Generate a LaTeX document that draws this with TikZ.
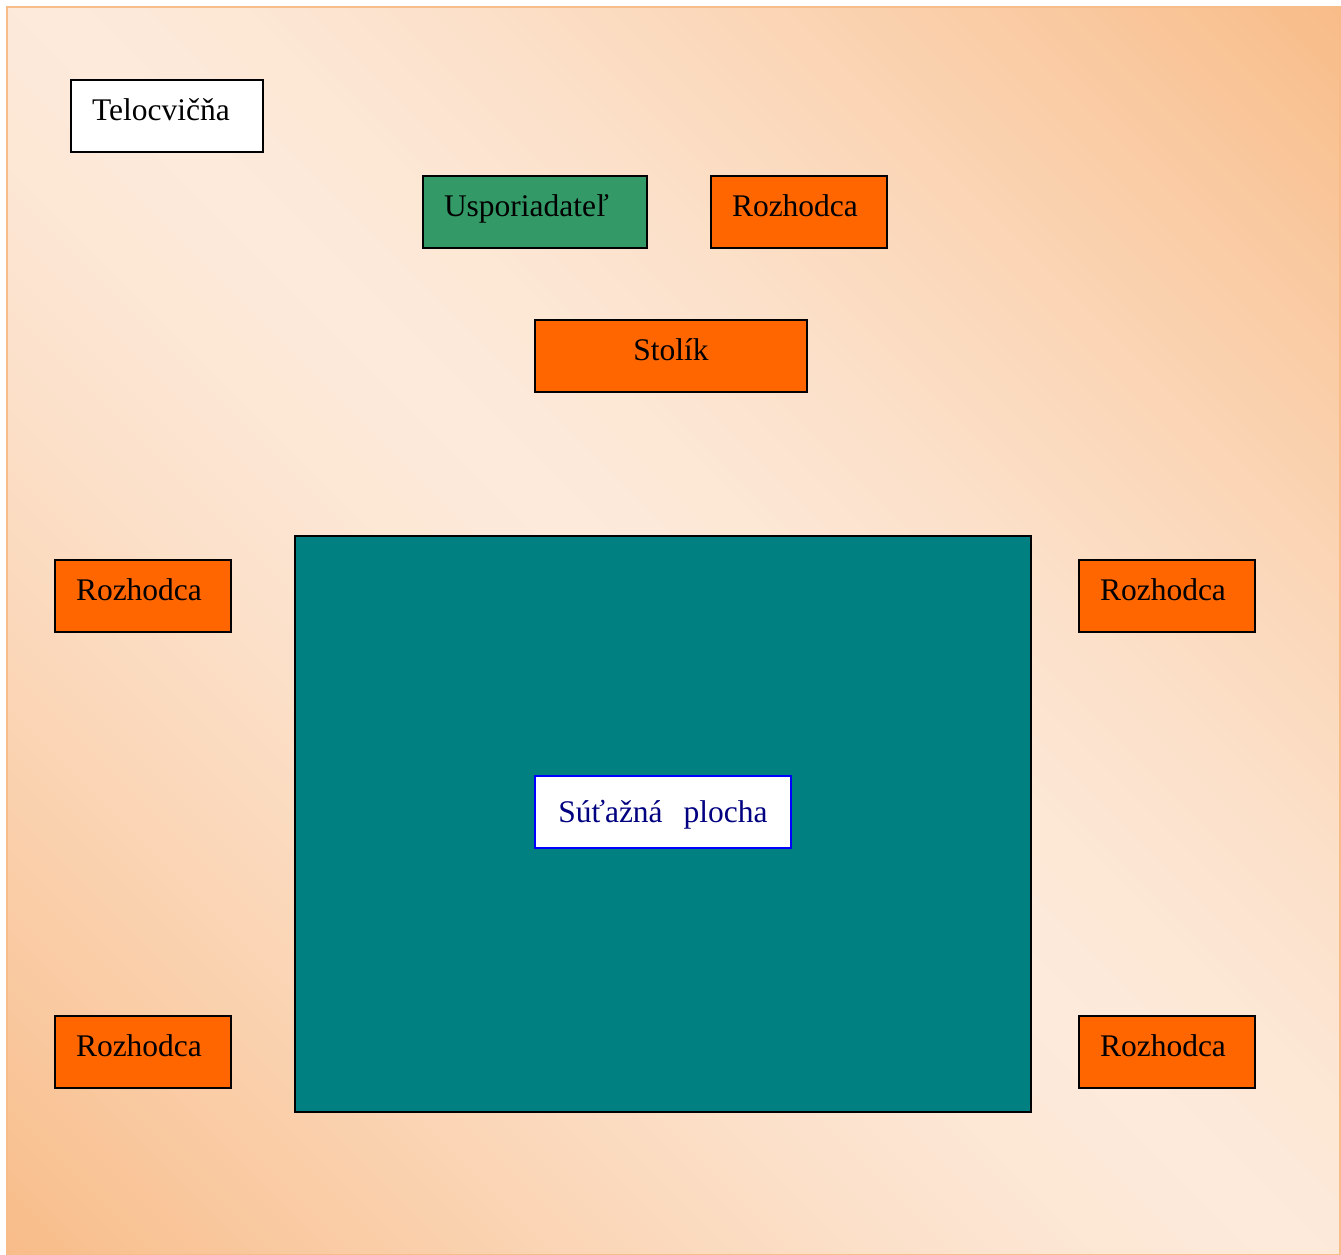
\documentclass[tikz,border=0pt]{standalone}
\usepackage{fontspec}
\setmainfont{Liberation Serif}
\definecolor{bgorange}{HTML}{F8BC88}
\definecolor{bglight}{HTML}{FDEADB}
\definecolor{boxorange}{HTML}{FF6600}
\definecolor{boxgreen}{HTML}{339966}
\definecolor{fieldteal}{HTML}{008080}
\definecolor{labelnavy}{HTML}{000080}
\begin{document}
\begin{tikzpicture}[x=0.5pt, y=-0.5pt,
	box/.style={draw=black, line width=1pt, inner ysep=0pt, inner xsep=10.5pt,
		outer sep=0pt, minimum height=36pt, text height=20pt, text depth=16pt,
		align=left, font=\fontsize{15.75}{18}\selectfont},
	judge/.style={box, fill=boxorange, text width=67pt}]
	\useasboundingbox (0,0) rectangle (1341,1255);

	% Draw the background in diagonal bands
	\begin{scope}
		\clip (7,7) rectangle (1340,1255);
		\foreach \s in {-1280,-1260,...,1340} {
			\pgfmathsetmacro{\mix}{100*min(1,abs(\s+10-40)/1290)^1.35}
			\fill[bgorange!\mix!bglight] (\s-100,-100) -- (\s+1400,1400)
				-- (\s+1422,1400) -- (\s-78,-100) -- cycle;
		}
	\end{scope}
	\draw[bgorange, line width=1pt] (7,7) rectangle (1340,1255);

	% Draw the labels at the top
	\node[box, fill=white, text width=75pt] (hall) at (167,116) {Telocvičňa};
	\node[box, fill=boxgreen, text width=91pt] (organiser) at (535,212) {Usporiadateľ};
	\node[judge] (judgetop) at (799,212) {Rozhodca};
	\node[box, fill=boxorange, text width=115pt, align=center] (table) at (671,356) {Stolík};

	% Draw the competition area
	\node[draw=black, line width=1pt, fill=fieldteal, minimum width=368pt,
		minimum height=288pt, inner sep=0pt] (area) at (663,824) {};
	\node[box, fill=white, draw=blue, text=labelnavy, text width=107pt, align=center,
		text height=23pt, text depth=13pt] (arealabel) at (663,812) {Súťažná\ \ plocha};

	% Draw the judges round the area
	\node[judge] (judgeA) at (143,596) {Rozhodca};
	\node[judge] (judgeB) at (1167,596) {Rozhodca};
	\node[judge] (judgeC) at (143,1052) {Rozhodca};
	\node[judge] (judgeD) at (1167,1052) {Rozhodca};

\end{tikzpicture}
\end{document}
